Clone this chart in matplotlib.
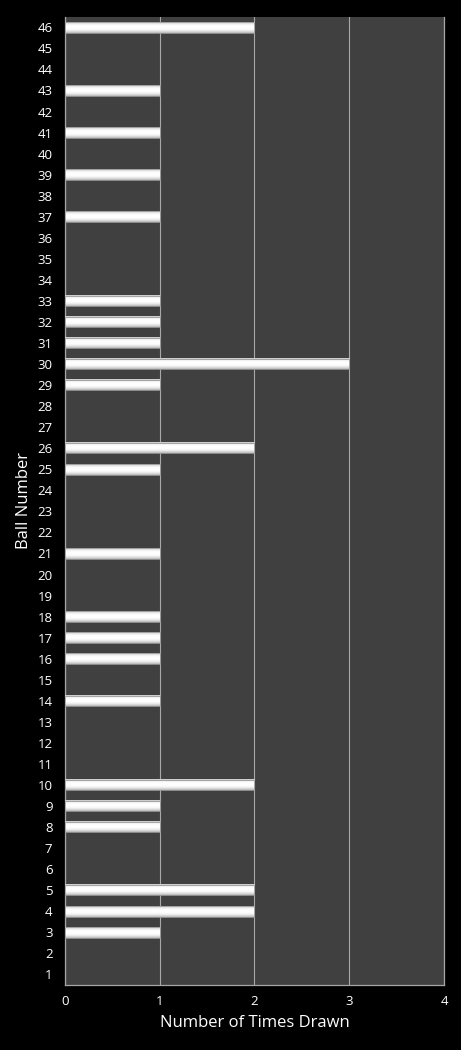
import numpy as np
import matplotlib.pyplot as plt

balls = list(range(1, 47))
drawn = {3: 1, 4: 2, 5: 2, 8: 1, 9: 1, 10: 2, 14: 1, 16: 1, 17: 1, 18: 1,
         21: 1, 25: 1, 26: 2, 29: 1, 30: 3, 31: 1, 32: 1, 33: 1, 37: 1,
         39: 1, 41: 1, 43: 1, 46: 2}
counts = [drawn.get(b, 0) for b in balls]
xticks = [0, 1, 2, 3, 4]

plt.rcParams['font.family'] = ['Open Sans', 'DejaVu Sans']

fig = plt.figure(figsize=(4.61, 10.5), dpi=100, facecolor='black')
ax = fig.add_axes([0.141, 0.062, 0.822, 0.922])
ax.set_facecolor('#404040')

ax.set_xticks(xticks)
ax.set_yticks(balls)
ax.xaxis.grid(True, color='#a8a8a8', linewidth=0.8)
ax.set_axisbelow(True)

# gradient for the bars (grey edge -> white centre -> grey edge)
grad = np.array([0.8, 0.89, 0.95, 0.99, 1.0, 1.0, 0.99, 0.97, 0.92, 0.85, 0.74]).reshape(-1, 1)
h = 0.5
for b, c in zip(balls, counts):
    if c > 0:
        ax.imshow(grad, cmap='gray', vmin=0, vmax=1, aspect='auto',
                  extent=(0, c, b - h / 2, b + h / 2), zorder=4, interpolation='bicubic')
        ax.add_patch(plt.Rectangle((0, b - h / 2), c, h, fill=False,
                                   edgecolor='#9a9a9a', linewidth=0.6, zorder=5))
ax.set_xlim(0, 4)
ax.set_ylim(0.5, 46.5)

for s in ['left', 'bottom', 'right']:
    ax.spines[s].set_color('#a6a6a6')
    ax.spines[s].set_linewidth(0.9)
ax.spines['top'].set_visible(False)

ax.tick_params(colors='white', labelsize=9.5, length=0, pad=7)
ax.tick_params(axis='y', pad=9)
ax.set_xlabel('Number of Times Drawn', color='white', fontsize=12, labelpad=5)
ax.set_ylabel('Ball Number', color='white', fontsize=12)
ax.yaxis.set_label_coords(-0.087, 0.5)

fig.savefig('out.png', facecolor='black')
